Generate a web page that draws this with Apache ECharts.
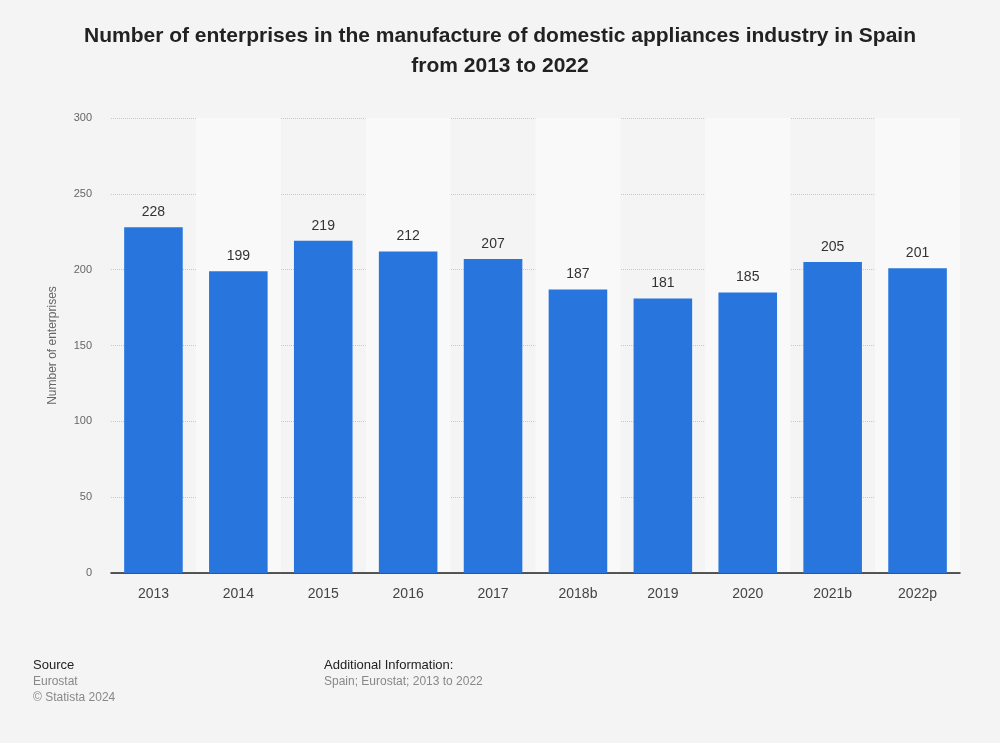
<!DOCTYPE html>
<html>
<head>
<meta charset="utf-8">
<script src="https://cdn.jsdelivr.net/npm/echarts@6/dist/echarts.min.js"></script>
<style>
  html, body { margin: 0; padding: 0; background: #f4f4f4; }
  #chart { width: 1000px; height: 743px; }
</style>
</head>
<body>
<div id="chart"></div>
<script>
var years = ['2013', '2014', '2015', '2016', '2017', '2018b', '2019', '2020', '2021b', '2022p'];
var enterprises = [228, 199, 219, 212, 207, 187, 181, 185, 205, 201];
var yTicks = [0, 50, 100, 150, 200, 250, 300];

var myChart = echarts.init(document.getElementById('chart'));

var font = '"Liberation Sans", Arial, Helvetica, sans-serif';

var option = {
  backgroundColor: '#f4f4f4',
  textStyle: { fontFamily: font },
  title: {
    text: 'Number of enterprises in the manufacture of domestic appliances industry in Spain\nfrom 2013 to 2022',
    left: 'center',
    top: 16,
    textStyle: {
      fontSize: 21,
      fontWeight: 'bold',
      color: '#222',
      lineHeight: 30,
      fontFamily: font
    }
  },
  grid: {
    left: 111,
    right: 40,
    top: 118,
    bottom: 170
  },
  xAxis: {
    type: 'category',
    data: years,
    axisLine: { lineStyle: { color: '#222', width: 1.5 } },
    axisTick: { show: false },
    axisLabel: { color: '#444', fontSize: 14, margin: 14 },
    splitArea: {
      show: true,
      areaStyle: { color: ['rgba(0,0,0,0)', '#f9f9f9'] }
    }
  },
  yAxis: {
    type: 'value',
    min: yTicks[0],
    max: yTicks[yTicks.length - 1],
    interval: 50,
    name: 'Number of enterprises',
    nameLocation: 'middle',
    nameGap: 52,
    nameTextStyle: { color: '#666', fontSize: 12 },
    axisLine: { show: false },
    axisTick: { show: false },
    axisLabel: { color: '#666', fontSize: 11, margin: 19 },
    splitLine: { lineStyle: { color: '#c8c8c8', type: 'dotted' } }
  },
  series: [
    {
      type: 'bar',
      data: enterprises,
      barWidth: '69%',
      itemStyle: { color: '#2876dd' },
      label: {
        show: true,
        position: 'top',
        distance: 8,
        color: '#333',
        fontSize: 14
      }
    }
  ],
  graphic: [
    { type: 'text', left: 33, top: 659, style: { text: 'Source', fill: '#222', font: '13px ' + font } },
    { type: 'text', left: 33, top: 676, style: { text: 'Eurostat', fill: '#888', font: '12px ' + font } },
    { type: 'text', left: 33, top: 692, style: { text: '© Statista 2024', fill: '#888', font: '12px ' + font } },
    { type: 'text', left: 324, top: 659, style: { text: 'Additional Information:', fill: '#222', font: '13px ' + font } },
    { type: 'text', left: 324, top: 676, style: { text: 'Spain; Eurostat; 2013 to 2022', fill: '#888', font: '12px ' + font } }
  ]
};

myChart.setOption(option);
</script>
</body>
</html>
